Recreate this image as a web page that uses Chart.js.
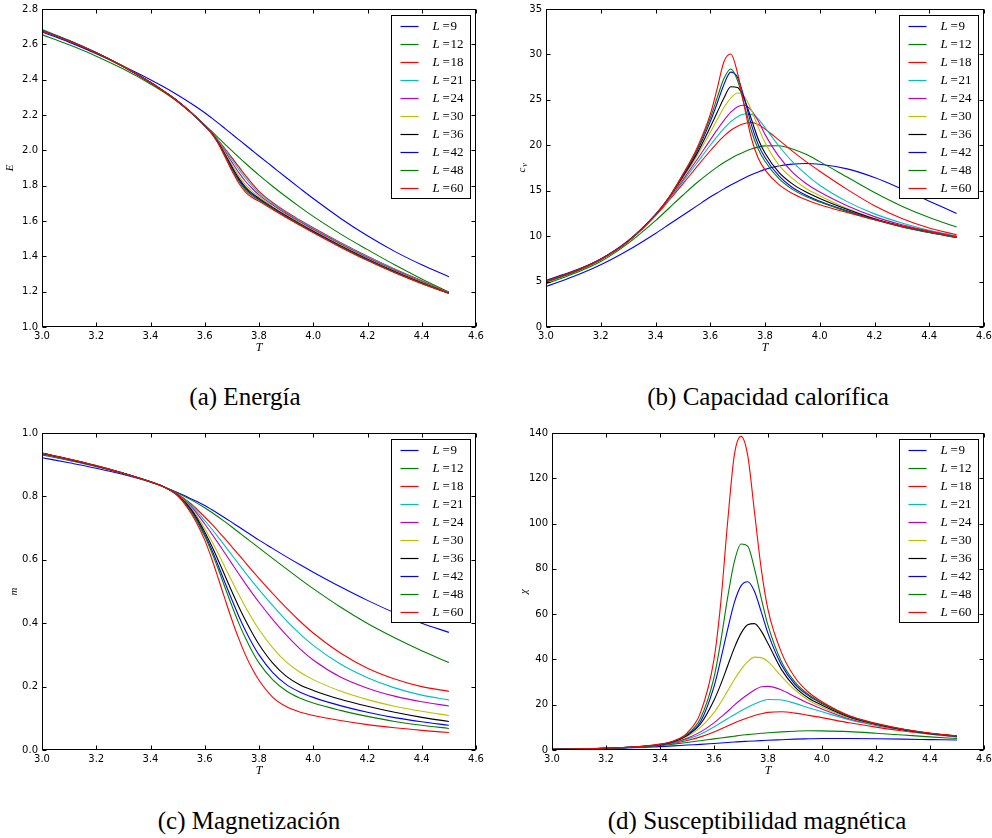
<!DOCTYPE html>
<html>
<head>
<meta charset="utf-8">
<script src="https://cdn.jsdelivr.net/npm/chart.js@4.4.1/dist/chart.umd.min.js"></script>
<style>
  body { margin: 0; background: #fff; }
  #fig { position: relative; width: 992px; height: 838px; overflow: hidden; }
  #fig canvas { position: absolute; }
  .cap {
    position: absolute;
    font-family: "Liberation Serif", serif;
    font-size: 25px;
    line-height: 25px;
    white-space: nowrap;
    transform: translateX(-50%);
    color: #000;
  }
</style>
</head>
<body>
<div id="fig">
  <canvas id="chartE" width="496" height="360" style="left:0;top:0"></canvas>
  <canvas id="chartC" width="496" height="360" style="left:496px;top:0"></canvas>
  <canvas id="chartM" width="496" height="363" style="left:0;top:420px"></canvas>
  <canvas id="chartX" width="496" height="363" style="left:496px;top:420px"></canvas>
  <div class="cap" style="left:245px;top:384px">(a) Energía</div>
  <div class="cap" style="left:768px;top:384px">(b) Capacidad calorífica</div>
  <div class="cap" style="left:249px;top:808px">(c) Magnetización</div>
  <div class="cap" style="left:757px;top:808px">(d) Susceptibilidad magnética</div>
</div>
<script>
// lattice sizes and the temperatures every curve is sampled at
const sizes = [9, 12, 18, 21, 24, 30, 36, 42, 48, 60];
const colors = ['#0000ff', '#008000', '#ff0000', '#00bfbf', '#bf00bf',
                '#bfbf00', '#000000', '#0000ff', '#008000', '#ff0000'];
const temps = [3.0, 3.1, 3.2, 3.3, 3.4, 3.45, 3.5, 3.55, 3.6, 3.625, 3.65, 3.675, 3.7,
               3.725, 3.75, 3.775, 3.8, 3.85, 3.9, 3.95, 4.0, 4.1, 4.2, 4.3, 4.4, 4.5];

const tTicks = [3.0, 3.2, 3.4, 3.6, 3.8, 4.0, 4.2, 4.4, 4.6];
const energyTicks = [1.0, 1.2, 1.4, 1.6, 1.8, 2.0, 2.2, 2.4, 2.6, 2.8];
const heatTicks = [0, 5, 10, 15, 20, 25, 30, 35];
const magTicks = [0.0, 0.2, 0.4, 0.6, 0.8, 1.0];
const suscTicks = [0, 20, 40, 60, 80, 100, 120, 140];

// energy, one row per lattice size
const energy = [
  [2.670, 2.612, 2.547, 2.476, 2.400, 2.358, 2.313, 2.265, 2.213, 2.184, 2.154, 2.123, 2.092, 2.061, 2.030, 1.999, 1.968, 1.907, 1.846, 1.786, 1.727, 1.616, 1.516, 1.428, 1.352, 1.285],
  [2.655, 2.597, 2.533, 2.460, 2.376, 2.328, 2.274, 2.212, 2.144, 2.108, 2.071, 2.034, 1.998, 1.962, 1.927, 1.893, 1.860, 1.797, 1.737, 1.680, 1.626, 1.527, 1.438, 1.352, 1.272, 1.198],
  [2.680, 2.620, 2.552, 2.474, 2.384, 2.333, 2.278, 2.213, 2.142, 2.101, 2.057, 2.009, 1.959, 1.908, 1.858, 1.811, 1.768, 1.705, 1.652, 1.606, 1.562, 1.479, 1.401, 1.329, 1.262, 1.195],
  [2.685, 2.623, 2.554, 2.475, 2.385, 2.334, 2.278, 2.213, 2.141, 2.100, 2.054, 2.002, 1.948, 1.894, 1.844, 1.799, 1.759, 1.699, 1.647, 1.602, 1.558, 1.475, 1.397, 1.326, 1.259, 1.194],
  [2.680, 2.620, 2.552, 2.474, 2.384, 2.333, 2.278, 2.213, 2.141, 2.099, 2.050, 1.993, 1.933, 1.875, 1.825, 1.784, 1.748, 1.691, 1.641, 1.596, 1.552, 1.470, 1.392, 1.321, 1.256, 1.193],
  [2.680, 2.620, 2.552, 2.474, 2.384, 2.333, 2.278, 2.213, 2.140, 2.098, 2.047, 1.983, 1.918, 1.857, 1.806, 1.768, 1.737, 1.683, 1.634, 1.590, 1.546, 1.464, 1.387, 1.317, 1.253, 1.192],
  [2.680, 2.620, 2.552, 2.474, 2.384, 2.333, 2.278, 2.213, 2.139, 2.098, 2.044, 1.976, 1.907, 1.843, 1.792, 1.756, 1.728, 1.677, 1.630, 1.585, 1.542, 1.460, 1.384, 1.314, 1.250, 1.192],
  [2.678, 2.618, 2.551, 2.473, 2.384, 2.333, 2.278, 2.213, 2.139, 2.097, 2.042, 1.971, 1.899, 1.834, 1.783, 1.749, 1.722, 1.673, 1.626, 1.582, 1.539, 1.457, 1.381, 1.311, 1.248, 1.191],
  [2.680, 2.620, 2.552, 2.474, 2.384, 2.333, 2.278, 2.213, 2.138, 2.097, 2.040, 1.968, 1.893, 1.826, 1.775, 1.742, 1.718, 1.670, 1.624, 1.580, 1.537, 1.456, 1.379, 1.310, 1.247, 1.191],
  [2.678, 2.619, 2.552, 2.474, 2.384, 2.333, 2.278, 2.213, 2.138, 2.096, 2.038, 1.962, 1.884, 1.815, 1.764, 1.733, 1.711, 1.665, 1.620, 1.576, 1.533, 1.452, 1.376, 1.307, 1.245, 1.190]
];

// specific heat c_v
const heat = [
  [4.45, 5.55, 6.85, 8.45, 10.3, 11.3, 12.3, 13.3, 14.3, 14.75, 15.2, 15.62, 16.02, 16.4, 16.75, 17.07, 17.35, 17.72, 17.93, 18.0, 17.92, 17.4, 16.45, 15.2, 13.85, 12.5],
  [4.75, 5.85, 7.2, 9.2, 11.7, 13.1, 14.5, 15.85, 17.05, 17.6, 18.1, 18.55, 18.95, 19.3, 19.58, 19.8, 19.93, 19.95, 19.6, 19.0, 18.2, 16.5, 14.8, 13.3, 12.05, 11.0],
  [4.95, 6.0, 7.4, 9.4, 12.25, 13.95, 15.75, 17.6, 19.4, 20.25, 21.0, 21.65, 22.1, 22.4, 22.5, 22.3, 21.8, 20.6, 19.35, 18.2, 17.15, 15.15, 13.35, 11.95, 10.9, 10.15],
  [5.0, 6.05, 7.45, 9.45, 12.35, 14.05, 16.0, 18.0, 20.0, 20.95, 21.85, 22.6, 23.15, 23.45, 23.4, 22.9, 21.95, 19.95, 18.2, 16.8, 15.6, 13.8, 12.45, 11.45, 10.65, 10.0],
  [5.0, 6.05, 7.45, 9.45, 12.35, 14.15, 16.2, 18.35, 20.6, 21.7, 22.75, 23.65, 24.25, 24.4, 23.85, 22.7, 21.2, 18.8, 17.05, 15.8, 14.85, 13.35, 12.15, 11.25, 10.55, 9.95],
  [5.0, 6.05, 7.45, 9.45, 12.35, 14.2, 16.4, 18.75, 21.4, 22.8, 24.15, 25.2, 25.75, 25.35, 23.9, 22.0, 20.3, 17.85, 16.35, 15.25, 14.45, 13.05, 11.95, 11.1, 10.45, 9.9],
  [5.05, 6.1, 7.45, 9.45, 12.35, 14.25, 16.55, 19.0, 22.0, 23.6, 25.2, 26.45, 26.35, 25.05, 22.9, 20.7, 19.15, 17.05, 15.75, 14.85, 14.15, 12.95, 11.9, 11.1, 10.45, 9.9],
  [5.15, 6.15, 7.5, 9.5, 12.4, 14.3, 16.65, 19.25, 22.6, 24.6, 26.7, 28.05, 27.45, 25.1, 22.3, 20.1, 18.65, 16.65, 15.35, 14.5, 13.85, 12.8, 11.85, 11.05, 10.4, 9.85],
  [4.95, 6.0, 7.4, 9.4, 12.3, 14.3, 16.75, 19.4, 23.0, 25.2, 27.35, 28.4, 27.1, 24.4, 21.6, 19.6, 18.25, 16.35, 15.15, 14.35, 13.75, 12.7, 11.8, 11.0, 10.4, 9.85],
  [5.05, 6.1, 7.45, 9.45, 12.35, 14.3, 16.8, 19.6, 23.4, 26.2, 29.2, 30.05, 27.9, 24.2, 20.8, 18.6, 17.3, 15.7, 14.7, 14.0, 13.45, 12.6, 11.8, 11.1, 10.5, 9.9]
];

// magnetization m
const magnet = [
  [0.922, 0.906, 0.889, 0.869, 0.845, 0.830, 0.812, 0.792, 0.771, 0.7585, 0.7455, 0.732, 0.718, 0.704, 0.690, 0.676, 0.662, 0.636, 0.610, 0.585, 0.561, 0.515, 0.472, 0.433, 0.400, 0.371],
  [0.931, 0.913, 0.894, 0.872, 0.846, 0.830, 0.811, 0.789, 0.764, 0.750, 0.735, 0.7195, 0.7035, 0.687, 0.6705, 0.654, 0.6375, 0.6045, 0.572, 0.540, 0.509, 0.451, 0.399, 0.354, 0.313, 0.276],
  [0.934, 0.916, 0.896, 0.873, 0.846, 0.830, 0.808, 0.776, 0.735, 0.713, 0.690, 0.666, 0.641, 0.616, 0.591, 0.566, 0.5415, 0.494, 0.449, 0.407, 0.369, 0.306, 0.258, 0.224, 0.200, 0.185],
  [0.935, 0.916, 0.896, 0.873, 0.846, 0.830, 0.807, 0.772, 0.724, 0.698, 0.671, 0.643, 0.615, 0.587, 0.559, 0.532, 0.506, 0.456, 0.409, 0.367, 0.330, 0.271, 0.228, 0.196, 0.173, 0.158],
  [0.935, 0.916, 0.896, 0.873, 0.846, 0.830, 0.806, 0.768, 0.713, 0.683, 0.652, 0.620, 0.588, 0.556, 0.525, 0.495, 0.466, 0.412, 0.363, 0.320, 0.284, 0.230, 0.195, 0.170, 0.152, 0.139],
  [0.936, 0.917, 0.896, 0.873, 0.846, 0.830, 0.805, 0.763, 0.698, 0.660, 0.619, 0.576, 0.533, 0.491, 0.451, 0.414, 0.380, 0.323, 0.278, 0.246, 0.222, 0.186, 0.159, 0.138, 0.122, 0.109],
  [0.936, 0.917, 0.896, 0.873, 0.846, 0.830, 0.804, 0.759, 0.688, 0.645, 0.598, 0.549, 0.500, 0.453, 0.409, 0.369, 0.333, 0.275, 0.233, 0.206, 0.188, 0.160, 0.138, 0.119, 0.103, 0.090],
  [0.936, 0.917, 0.896, 0.873, 0.846, 0.830, 0.804, 0.756, 0.680, 0.633, 0.581, 0.527, 0.474, 0.423, 0.377, 0.336, 0.300, 0.245, 0.207, 0.183, 0.166, 0.140, 0.119, 0.102, 0.089, 0.078],
  [0.937, 0.918, 0.897, 0.873, 0.846, 0.830, 0.803, 0.752, 0.674, 0.625, 0.570, 0.512, 0.455, 0.401, 0.353, 0.311, 0.275, 0.222, 0.187, 0.164, 0.148, 0.125, 0.106, 0.090, 0.078, 0.068],
  [0.937, 0.918, 0.897, 0.873, 0.846, 0.830, 0.802, 0.746, 0.662, 0.605, 0.541, 0.475, 0.411, 0.352, 0.300, 0.256, 0.220, 0.167, 0.137, 0.120, 0.109, 0.093, 0.080, 0.070, 0.062, 0.055]
];

// magnetic susceptibility chi
const suscept = [
  [0.3, 0.45, 0.7, 1.0, 1.5, 1.8, 2.2, 2.5, 2.9, 3.1, 3.3, 3.5, 3.7, 3.85, 4.0, 4.15, 4.3, 4.55, 4.8, 4.95, 5.08, 5.05, 4.95, 4.8, 4.6, 4.4],
  [0.3, 0.5, 0.8, 1.2, 2.0, 2.6, 3.3, 4.1, 4.9, 5.3, 5.7, 6.1, 6.5, 6.8, 7.1, 7.4, 7.6, 8.0, 8.3, 8.5, 8.45, 8.1, 7.4, 6.6, 5.8, 5.1],
  [0.3, 0.5, 0.75, 1.2, 2.2, 3.0, 4.2, 5.8, 8.0, 9.3, 10.6, 11.9, 13.1, 14.2, 15.2, 16.0, 16.6, 16.9, 16.3, 15.3, 14.3, 12.0, 10.1, 8.4, 7.0, 5.8],
  [0.3, 0.5, 0.75, 1.2, 2.2, 3.2, 4.8, 7.0, 10.2, 12.0, 13.8, 15.6, 17.3, 18.9, 20.3, 21.5, 22.3, 22.1, 20.6, 18.7, 16.9, 13.4, 10.8, 8.8, 7.1, 5.9],
  [0.3, 0.5, 0.75, 1.25, 2.3, 3.4, 5.2, 8.0, 12.0, 14.5, 17.0, 19.8, 22.3, 24.5, 26.5, 27.9, 28.1, 26.5, 23.5, 20.6, 18.1, 13.8, 11.0, 8.8, 7.1, 6.0],
  [0.3, 0.5, 0.75, 1.25, 2.3, 3.6, 6.0, 10.0, 16.5, 21.0, 26.0, 31.0, 35.5, 39.0, 41.0, 40.8, 39.0, 32.5, 26.5, 22.0, 19.0, 14.2, 11.2, 8.9, 7.2, 6.1],
  [0.3, 0.5, 0.75, 1.25, 2.35, 3.7, 6.4, 11.5, 22.0, 29.0, 37.0, 45.0, 51.5, 55.3, 55.8, 52.5, 47.0, 35.5, 27.8, 23.0, 19.8, 14.6, 11.4, 9.0, 7.3, 6.1],
  [0.3, 0.5, 0.75, 1.25, 2.4, 3.8, 6.7, 12.5, 28.0, 40.0, 53.0, 65.0, 72.5, 74.3, 70.0, 61.0, 51.5, 37.5, 29.0, 24.0, 20.5, 14.9, 11.5, 9.1, 7.3, 6.1],
  [0.3, 0.5, 0.75, 1.25, 2.5, 3.9, 6.9, 14.0, 32.0, 48.0, 67.0, 83.0, 91.0, 90.0, 80.0, 67.0, 55.0, 39.0, 30.0, 24.5, 20.8, 15.0, 11.6, 9.2, 7.4, 6.2],
  [0.3, 0.5, 0.8, 1.3, 2.6, 4.0, 7.5, 16.5, 40.0, 65.0, 100.0, 130.0, 138.5, 130.0, 105.0, 80.0, 62.0, 43.0, 32.0, 25.5, 21.3, 15.2, 11.8, 9.3, 7.5, 6.2]
];

const SERIF = '"Liberation Serif", "DejaVu Serif", serif';
Chart.defaults.font.family = '"DejaVu Sans", sans-serif';
Chart.defaults.font.size = 10;
Chart.defaults.color = '#000';

// frame with inward ticks on all four sides, axis names and the boxed legend
const framePlugin = {
  id: 'frame',
  afterDraw(chart, args, opts) {
    const ctx = chart.ctx;
    const a = chart.chartArea;
    const l = Math.round(a.left) + 0.5, r = Math.round(a.right) - 0.5;
    const t = Math.round(a.top) + 0.5, b = Math.round(a.bottom) - 0.5;
    ctx.save();
    ctx.strokeStyle = '#000';
    ctx.lineWidth = 1;
    ctx.strokeRect(l, t, r - l, b - t);

    ctx.beginPath();
    const xs = chart.scales.x, ys = chart.scales.y;
    xs.ticks.forEach(tk => {
      const px = Math.round(xs.getPixelForValue(tk.value)) + 0.5;
      ctx.moveTo(px, b); ctx.lineTo(px, b - 4);
      ctx.moveTo(px, t); ctx.lineTo(px, t + 4);
    });
    ys.ticks.forEach(tk => {
      const py = Math.round(ys.getPixelForValue(tk.value)) + 0.5;
      ctx.moveTo(l, py); ctx.lineTo(l + 4, py);
      ctx.moveTo(r, py); ctx.lineTo(r - 4, py);
    });
    ctx.stroke();

    // axis names
    ctx.fillStyle = '#000';
    ctx.textAlign = 'center';
    ctx.textBaseline = 'middle';
    ctx.font = 'italic 12px ' + SERIF;
    ctx.fillText('T', (a.left + a.right) / 2, a.bottom + 21);
    ctx.save();
    ctx.translate(a.left - opts.yNameOffset, (a.top + a.bottom) / 2);
    ctx.rotate(-Math.PI / 2);
    ctx.font = 'italic 11px ' + SERIF;
    if (opts.yName === 'c_v') {
      ctx.fillText('c', -2, 0);
      ctx.font = 'italic 8px ' + SERIF;
      ctx.fillText('v', 3, 3);
    } else {
      ctx.fillText(opts.yName, 0, 0);
    }
    ctx.restore();

    // legend box in the upper right corner
    const bw = 79, rowH = 18;
    const bh = rowH * sizes.length + 3;
    const bx = Math.round(a.right) - 6 - bw + 0.5;
    const by = Math.round(a.top) + opts.legendTop + 0.5;
    ctx.fillStyle = '#fff';
    ctx.fillRect(bx, by, bw, bh);
    ctx.strokeStyle = '#000';
    ctx.strokeRect(bx, by, bw, bh);
    chart.data.datasets.forEach((ds, i) => {
      const cy = Math.round(by + 10 + i * rowH) + 0.5;
      ctx.strokeStyle = ds.borderColor;
      ctx.lineWidth = 1.2;
      ctx.beginPath();
      ctx.moveTo(bx + 9, cy);
      ctx.lineTo(bx + 27, cy);
      ctx.stroke();
      ctx.fillStyle = '#000';
      ctx.textAlign = 'left';
      ctx.textBaseline = 'middle';
      ctx.font = 'italic 13px ' + SERIF;
      ctx.fillText('L', bx + 41, cy);
      ctx.font = '13px ' + SERIF;
      ctx.fillText('=', bx + 51, cy);
      ctx.fillText(String(sizes[i]), bx + 59, cy);
    });
    ctx.restore();
  }
};

function makePanel(id, rows, yMin, yMax, yTicks, digits, axisW, padTop, padRight, yName, yNameOffset) {
  const datasets = rows.map((vals, i) => ({
    label: 'L=' + sizes[i],
    data: temps.map((t, k) => ({ x: t, y: vals[k] })),
    borderColor: colors[i],
    borderWidth: 1.1,
    pointRadius: 0,
    fill: false,
    cubicInterpolationMode: 'monotone',
    order: rows.length - i
  }));
  return new Chart(document.getElementById(id), {
    type: 'line',
    data: { datasets },
    options: {
      responsive: false,
      animation: false,
      devicePixelRatio: 1,
      layout: { padding: { top: padTop, right: padRight, left: 0, bottom: 0 } },
      plugins: {
        legend: { display: false },
        tooltip: { enabled: false },
        frame: { yName, yNameOffset, legendTop: 6 }
      },
      scales: {
        x: {
          type: 'linear', min: 3.0, max: 4.6,
          grid: { display: false, drawTicks: false },
          border: { display: false },
          ticks: { padding: 3, maxRotation: 0, autoSkip: false, callback: v => v.toFixed(1) },
          afterBuildTicks: s => { s.ticks = tTicks.map(v => ({ value: v })); },
          afterFit: s => { s.height = 33; s.paddingLeft = 0; s.paddingRight = 0; }
        },
        y: {
          type: 'linear', min: yMin, max: yMax,
          grid: { display: false, drawTicks: false },
          border: { display: false },
          ticks: { padding: 4, autoSkip: false, callback: v => v.toFixed(digits) },
          afterBuildTicks: s => { s.ticks = yTicks.map(v => ({ value: v })); },
          afterFit: s => { s.width = axisW; s.paddingTop = 0; s.paddingBottom = 0; }
        }
      }
    },
    plugins: [framePlugin]
  });
}

makePanel('chartE', energy, 1.0, 2.8, energyTicks, 1, 42, 9, 20, 'E', 32);
makePanel('chartC', heat, 0, 35, heatTicks, 0, 50, 9, 8, 'c_v', 24);
makePanel('chartM', magnet, 0.0, 1.0, magTicks, 1, 42, 13, 20, 'm', 28);
makePanel('chartX', suscept, 0, 140, suscTicks, 0, 56, 13, 8, 'χ', 28);
</script>
</body>
</html>
